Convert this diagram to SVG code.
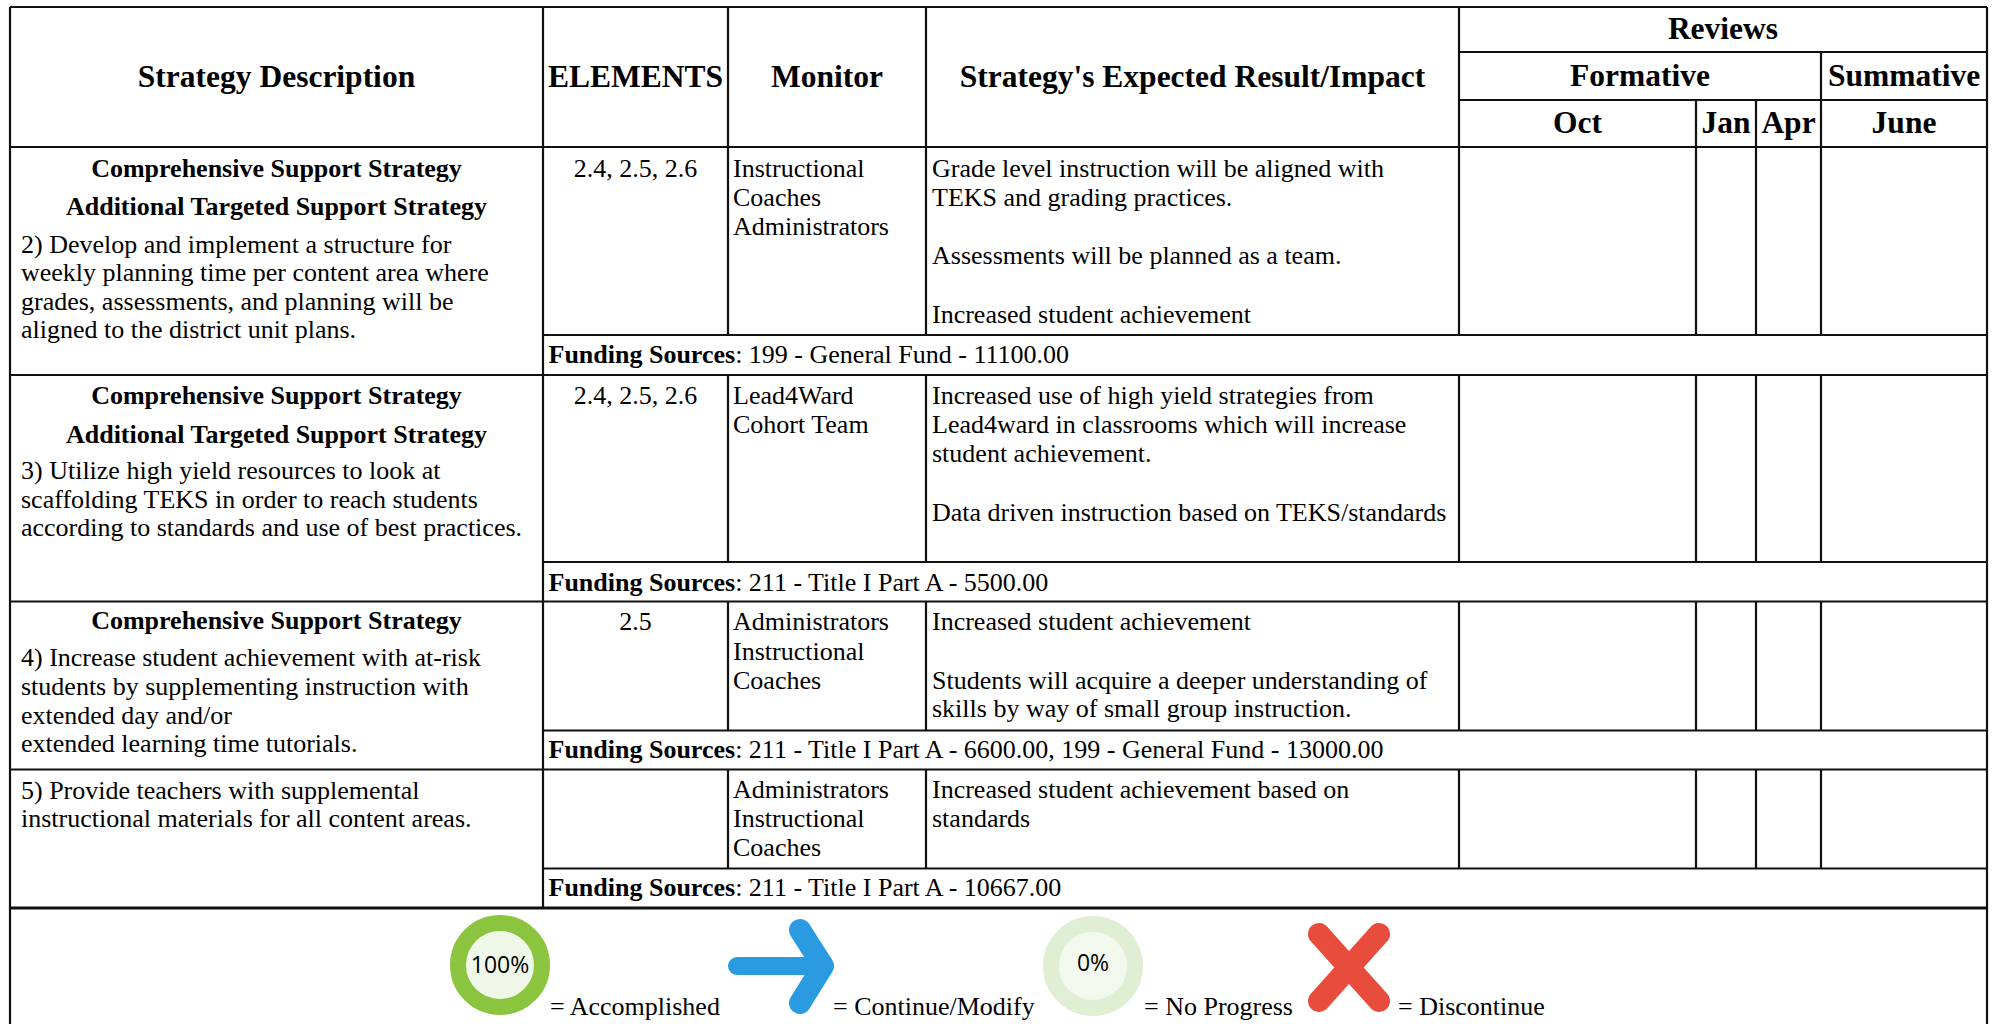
<svg xmlns="http://www.w3.org/2000/svg" width="1995" height="1024" viewBox="0 0 1995 1024">
<style>
text{font-family:"Liberation Serif","Times New Roman",serif;fill:#000;}
.h{font-size:31.5px;font-weight:bold;text-anchor:middle;}
.b{font-size:26px;font-weight:bold;}
.c{text-anchor:middle;}
.t{font-size:26px;}
.ln{stroke:#111;stroke-width:2.2;fill:none;}
.thick{stroke:#111;stroke-width:3.2;fill:none;}
.pct{font-family:"Open Sans","Liberation Sans",sans-serif;font-size:23px;text-anchor:middle;}
</style>
<rect x="0" y="0" width="1995" height="1024" fill="#fff"/>
<g id="grid">
<path class="ln" d="M10 7H1987 M1459 52H1987 M1459 100H1987 M10 147H1987 M543 335H1987 M10 375H1987 M543 562H1987 M10 601.5H1987 M543 730.5H1987 M10 769.5H1987 M543 868.5H1987"/>
<path class="thick" d="M10 908H1987"/>
<path class="ln" d="M10 7V1024 M1987 7V1024 M543 7V908"/>
<path class="ln" d="M728 7V335 M926 7V335 M1459 7V335 M1696 100V335 M1756 100V335 M1821 52V335"/>
<path class="ln" d="M728 375V562 M926 375V562 M1459 375V562 M1696 375V562 M1756 375V562 M1821 375V562"/>
<path class="ln" d="M728 601.5V730.5 M926 601.5V730.5 M1459 601.5V730.5 M1696 601.5V730.5 M1756 601.5V730.5 M1821 601.5V730.5"/>
<path class="ln" d="M728 769.5V868.5 M926 769.5V868.5 M1459 769.5V868.5 M1696 769.5V868.5 M1756 769.5V868.5 M1821 769.5V868.5"/>
</g>
<g id="header">
<text class="h" x="276.5" y="87">Strategy Description</text>
<text class="h" x="635.5" y="87">ELEMENTS</text>
<text class="h" x="827" y="87">Monitor</text>
<text class="h" x="1192.5" y="87">Strategy's Expected Result/Impact</text>
<text class="h" x="1723" y="39">Reviews</text>
<text class="h" x="1640" y="86">Formative</text>
<text class="h" x="1904" y="86">Summative</text>
<text class="h" x="1577.5" y="133">Oct</text>
<text class="h" x="1726" y="133">Jan</text>
<text class="h" x="1788.5" y="133">Apr</text>
<text class="h" x="1904" y="133">June</text>
</g>
<g id="row1">
<text class="b c" x="276.5" y="177">Comprehensive Support Strategy</text>
<text class="b c" x="276.5" y="215">Additional Targeted Support Strategy</text>
<text class="t" x="21" y="252.5">2) Develop and implement a structure for</text>
<text class="t" x="21" y="281">weekly planning time per content area where</text>
<text class="t" x="21" y="309.5">grades, assessments, and planning will be</text>
<text class="t" x="21" y="338">aligned to the district unit plans.</text>
<text class="t c" x="635.5" y="176.5">2.4, 2.5, 2.6</text>
<text class="t" x="733" y="176.5">Instructional</text>
<text class="t" x="733" y="205.5">Coaches</text>
<text class="t" x="733" y="235">Administrators</text>
<text class="t" x="932" y="176.5">Grade level instruction will be aligned with</text>
<text class="t" x="932" y="205.5">TEKS and grading practices.</text>
<text class="t" x="932" y="264">Assessments will be planned as a team.</text>
<text class="t" x="932" y="323">Increased student achievement</text>
<text class="t" x="548.5" y="363"><tspan font-weight="bold">Funding Sources</tspan>: 199 - General Fund - 11100.00</text>
</g>
<g id="row2">
<text class="b c" x="276.5" y="404">Comprehensive Support Strategy</text>
<text class="b c" x="276.5" y="442.5">Additional Targeted Support Strategy</text>
<text class="t" x="21" y="479">3) Utilize high yield resources to look at</text>
<text class="t" x="21" y="507.5">scaffolding TEKS in order to reach students</text>
<text class="t" x="21" y="536">according to standards and use of best practices.</text>
<text class="t c" x="635.5" y="403.5">2.4, 2.5, 2.6</text>
<text class="t" x="733" y="403.5">Lead4Ward</text>
<text class="t" x="733" y="432.5">Cohort Team</text>
<text class="t" x="932" y="403.5">Increased use of high yield strategies from</text>
<text class="t" x="932" y="432.5">Lead4ward in classrooms which will increase</text>
<text class="t" x="932" y="462">student achievement.</text>
<text class="t" x="932" y="521">Data driven instruction based on TEKS/standards</text>
<text class="t" x="548.5" y="590.5"><tspan font-weight="bold">Funding Sources</tspan>: 211 - Title I Part A - 5500.00</text>
</g>
<g id="row3">
<text class="b c" x="276.5" y="629">Comprehensive Support Strategy</text>
<text class="t" x="21" y="666">4) Increase student achievement with at-risk</text>
<text class="t" x="21" y="694.5">students by supplementing instruction with</text>
<text class="t" x="21" y="723.5">extended day and/or</text>
<text class="t" x="21" y="752">extended learning time tutorials.</text>
<text class="t c" x="635.5" y="630">2.5</text>
<text class="t" x="733" y="630">Administrators</text>
<text class="t" x="733" y="659.5">Instructional</text>
<text class="t" x="733" y="688.5">Coaches</text>
<text class="t" x="932" y="630">Increased student achievement</text>
<text class="t" x="932" y="688.5">Students will acquire a deeper understanding of</text>
<text class="t" x="932" y="717">skills by way of small group instruction.</text>
<text class="t" x="548.5" y="757.5"><tspan font-weight="bold">Funding Sources</tspan>: 211 - Title I Part A - 6600.00, 199 - General Fund - 13000.00</text>
</g>
<g id="row4">
<text class="t" x="21" y="798.5">5) Provide teachers with supplemental</text>
<text class="t" x="21" y="827">instructional materials for all content areas.</text>
<text class="t" x="733" y="797.5">Administrators</text>
<text class="t" x="733" y="826.5">Instructional</text>
<text class="t" x="733" y="856">Coaches</text>
<text class="t" x="932" y="797.5">Increased student achievement based on</text>
<text class="t" x="932" y="826.5">standards</text>
<text class="t" x="548.5" y="896"><tspan font-weight="bold">Funding Sources</tspan>: 211 - Title I Part A - 10667.00</text>
</g>
<g id="legend">
<g id="accomplished">
<circle cx="500" cy="965" r="42" fill="#eff7e8" stroke="#8bc53f" stroke-width="16"/>
<text class="pct" x="500" y="973" fill="#4a5870">100%</text>
<text class="t" x="550" y="1015">= Accomplished</text>
</g>
<g id="continue">
<path d="M737 966H823" stroke="#2a9be1" stroke-width="18" stroke-linecap="round" fill="none"/>
<path d="M800 930L823 966L800 1003" stroke="#2a9be1" stroke-width="22" stroke-linecap="round" stroke-linejoin="round" fill="none"/>
<text class="t" x="833" y="1015">= Continue/Modify</text>
</g>
<g id="noprogress">
<circle cx="1093" cy="966" r="42" fill="#f3f8ee" stroke="#e0efd4" stroke-width="16"/>
<text class="pct" x="1093" y="971" fill="#6b7b8c">0%</text>
<text class="t" x="1144" y="1015">= No Progress</text>
</g>
<g id="discontinue">
<path d="M1319 934L1379 1001 M1379 934L1319 1001" stroke="#e74c3c" stroke-width="22" stroke-linecap="round" fill="none"/>
<text class="t" x="1398" y="1015">= Discontinue</text>
</g>
</g>
</svg>
